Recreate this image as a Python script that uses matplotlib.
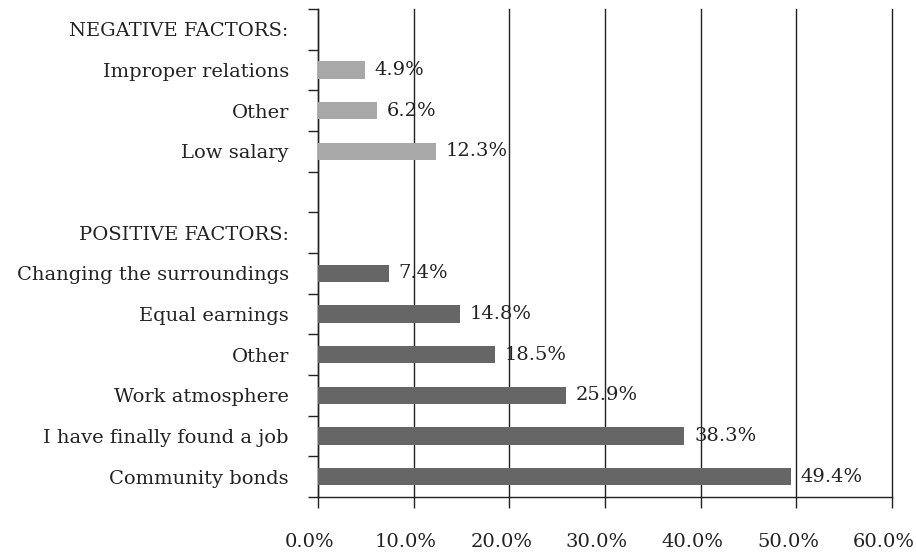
import numpy as np
import matplotlib.pyplot as plt
import matplotlib.transforms as mtransforms
from matplotlib.ticker import FixedLocator, PercentFormatter

# categories top -> bottom ("" = empty row)
labels = ['NEGATIVE FACTORS:', 'Improper relations', 'Other', 'Low salary', '',
          'POSITIVE FACTORS:', 'Changing the surroundings', 'Equal earnings', 'Other',
          'Work atmosphere', 'I have finally found a job', 'Community bonds']
values = [None, 4.9, 6.2, 12.3, None, None, 7.4, 14.8, 18.5, 25.9, 38.3, 49.4]
group = ['', 'neg', 'neg', 'neg', '', '', 'pos', 'pos', 'pos', 'pos', 'pos', 'pos']
xticks = [0, 10, 20, 30, 40, 50, 60]

colors = {'neg': '#a8a8a8', 'pos': '#666666'}

plt.rcParams['font.family'] = 'DejaVu Serif'
plt.rcParams['font.size'] = 14

fig = plt.figure(figsize=(9.16, 5.52), dpi=100)
ax = fig.add_axes([0.3472, 0.0996, 0.9738 - 0.3472, 0.9837 - 0.0996])

n = len(labels)
ypos = np.arange(n)
for y, v, g in zip(ypos, values, group):
    if v is None:
        continue
    ax.barh(y, v, height=0.43, color=colors[g], zorder=3)
    ax.annotate('%.1f%%' % v, (v, y), xytext=(7, 0), textcoords='offset points',
                va='center', ha='left', color='#222222', zorder=4)

ax.set_ylim(n - 0.5, -0.5)
ax.set_xlim(0, 60)
ax.set_yticks(ypos)
ax.set_yticklabels(labels, color='#222222')
ax.yaxis.set_minor_locator(FixedLocator(np.arange(-0.5, n, 1.0)))
ax.tick_params(axis='y', which='major', length=0, pad=21)
ax.tick_params(axis='y', which='minor', length=7, width=1, color='#222222')

ax.set_xticks(xticks)
ax.xaxis.set_major_formatter(PercentFormatter(decimals=1))
ax.tick_params(axis='x', length=8, width=1, pad=18, colors='#222222')
shift = mtransforms.ScaledTranslation(-8 / 100, 0, fig.dpi_scale_trans)
for lab in ax.get_xticklabels():
    lab.set_transform(lab.get_transform() + shift)

ax.grid(axis='x', color='#222222', linewidth=1, zorder=0)
for gl in ax.get_xgridlines():
    gl.set_clip_on(False)
for s in ['top', 'right']:
    ax.spines[s].set_visible(False)
for s in ['left', 'bottom']:
    ax.spines[s].set_color('#222222')
    ax.spines[s].set_linewidth(1)

plt.savefig('out.png', dpi=100)
